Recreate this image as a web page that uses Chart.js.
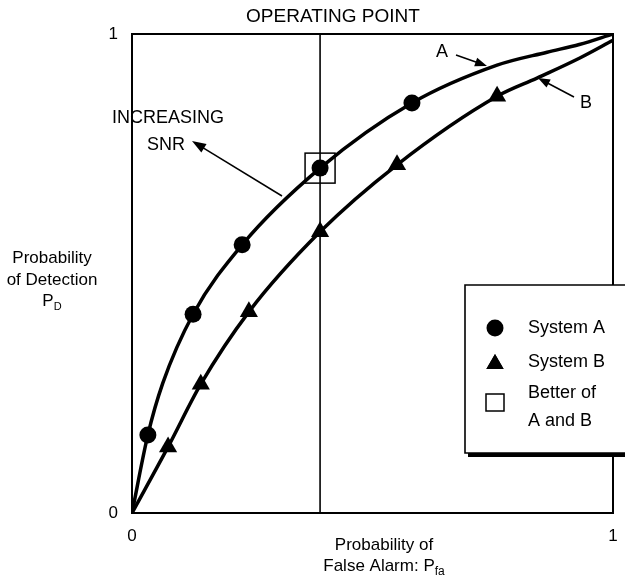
<!DOCTYPE html>
<html><head><meta charset="utf-8">
<script src="https://cdn.jsdelivr.net/npm/chart.js@4/dist/chart.umd.min.js"></script>
<style>html,body{margin:0;padding:0;background:#fff;overflow:hidden}canvas{display:block}</style>
</head><body>
<canvas id="c" width="625" height="576"></canvas>
<script>
// ---- data ----
const xTickLabels = ['0', '1'];
const yTickLabels = ['0', '1'];
const curveA = [
  {x:0, y:0}, {x:0.033, y:0.163}, {x:0.064, y:0.271}, {x:0.127, y:0.415},
  {x:0.229, y:0.560}, {x:0.391, y:0.720}, {x:0.582, y:0.856}, {x:0.759, y:0.935},
  {x:0.863, y:0.962}, {x:0.930, y:0.978}, {x:1, y:1}
];
const curveB = [
  {x:0, y:0}, {x:0.075, y:0.138}, {x:0.143, y:0.269}, {x:0.243, y:0.420},
  {x:0.391, y:0.587}, {x:0.551, y:0.727}, {x:0.759, y:0.870}, {x:0.842, y:0.908},
  {x:0.931, y:0.950}, {x:1, y:0.987}
];
const systemA = [
  {x:0.033, y:0.163}, {x:0.127, y:0.415}, {x:0.229, y:0.560}, {x:0.391, y:0.720}, {x:0.582, y:0.856}
];
const systemB = [
  {x:0.075, y:0.138}, {x:0.143, y:0.269}, {x:0.243, y:0.420}, {x:0.391, y:0.587},
  {x:0.551, y:0.727}, {x:0.759, y:0.870}
];
const operatingPoint = [{x:0.391, y:0.720}];
const seriesLabels = ['System A', 'System B', ['Better of', 'A and B']];
const chartTitle = 'OPERATING POINT';
const yTitle = ['Probability', 'of Detection'];
const xTitle = ['Probability of', 'False Alarm: '];

const FONT = '"Liberation Sans", Arial, Helvetica, sans-serif';

function font(size){ return size + 'px ' + FONT; }

function drawArrow(ctx, x1, y1, x2, y2, len, half){
  const a = Math.atan2(y2 - y1, x2 - x1);
  ctx.beginPath();
  ctx.moveTo(x1, y1);
  ctx.lineTo(x2 - Math.cos(a) * len * 0.8, y2 - Math.sin(a) * len * 0.8);
  ctx.stroke();
  ctx.beginPath();
  ctx.moveTo(x2, y2);
  ctx.lineTo(x2 - Math.cos(a) * len + Math.sin(a) * half, y2 - Math.sin(a) * len - Math.cos(a) * half);
  ctx.lineTo(x2 - Math.cos(a) * len - Math.sin(a) * half, y2 - Math.sin(a) * len + Math.cos(a) * half);
  ctx.closePath();
  ctx.fill();
}

function drawSubText(ctx, base, sub, cx, cy, size, subSize, align){
  ctx.font = font(size);
  const wb = ctx.measureText(base).width;
  ctx.font = font(subSize);
  const ws = ctx.measureText(sub).width;
  const total = wb + ws;
  let x0 = align === 'left' ? cx : cx - total / 2;
  ctx.textAlign = 'left';
  ctx.textBaseline = 'middle';
  ctx.font = font(size);
  ctx.fillText(base, x0, cy);
  ctx.font = font(subSize);
  ctx.fillText(sub, x0 + wb, cy + size * 0.35);
}

const decor = {
  id: 'decor',
  beforeDatasetsDraw(chart){
    const {ctx, chartArea: a, scales: {x, y}} = chart;
    ctx.save();
    ctx.strokeStyle = '#000';
    ctx.lineWidth = 2;
    ctx.strokeRect(a.left, a.top, a.right - a.left, a.bottom - a.top);
    // operating point vertical line
    const ox = x.getPixelForValue(operatingPoint[0].x);
    ctx.lineWidth = 1.6;
    ctx.beginPath();
    ctx.moveTo(ox, a.top);
    ctx.lineTo(ox, a.bottom);
    ctx.stroke();
    ctx.restore();
  },
  afterDatasetsDraw(chart){
    const {ctx, chartArea: a, scales: {x, y}} = chart;
    const P = (vx, vy) => [x.getPixelForValue(vx), y.getPixelForValue(vy)];
    ctx.save();
    ctx.fillStyle = '#000';
    ctx.strokeStyle = '#000';

    // box around operating point
    const [bx, by] = P(operatingPoint[0].x, operatingPoint[0].y);
    ctx.lineWidth = 1.5;
    ctx.strokeRect(bx - 15, by - 15, 30, 30);

    // arrows
    ctx.lineWidth = 1.5;
    drawArrow(ctx, 282, 196, 192, 141, 14, 5);
    drawArrow(ctx, 456, 55, 487, 66, 12, 4.5);
    drawArrow(ctx, 574, 97, 538, 78, 12, 4.5);

    // texts
    ctx.textBaseline = 'middle';
    ctx.textAlign = 'center';
    ctx.font = font(19);
    ctx.fillText(chartTitle, 333, 17);
    ctx.font = font(18);
    ctx.fillText('INCREASING', 168, 118);
    ctx.fillText('SNR', 166, 145);
    ctx.fillText('A', 442, 52);
    ctx.fillText('B', 586, 103);

    ctx.font = font(17);
    ctx.fillText(yTitle[0], 52, 258);
    ctx.fillText(yTitle[1], 52, 280);
    drawSubText(ctx, 'P', 'D', 52, 301, 17, 11);
    ctx.textAlign = 'center';
    ctx.font = font(17);
    ctx.fillText(xTitle[0], 384, 545);
    drawSubText(ctx, xTitle[1] + 'P', 'fa', 384, 566, 17, 12);

    // legend box with shadow
    const lx = 465, ly = 285, lb = 453;
    ctx.fillStyle = '#000';
    ctx.fillRect(lx + 3, lb, 625 - lx, 4);
    ctx.fillStyle = '#fff';
    ctx.fillRect(lx, ly, 625 - lx + 5, lb - ly);
    ctx.strokeStyle = '#000';
    ctx.lineWidth = 1.6;
    ctx.beginPath();
    ctx.moveTo(640, ly); ctx.lineTo(lx, ly); ctx.lineTo(lx, lb); ctx.lineTo(640, lb);
    ctx.stroke();

    ctx.fillStyle = '#000';
    const mx = 495, tx = 528;
    // circle
    ctx.beginPath(); ctx.arc(mx, 328, 8.5, 0, Math.PI * 2); ctx.fill();
    // triangle
    Chart.helpers.drawPoint(ctx, {pointStyle: 'triangle', radius: 10, borderWidth: 0}, mx, 364);
    ctx.fill();
    // square
    ctx.lineWidth = 1.5;
    ctx.strokeRect(mx - 9, 394, 18, 17);

    ctx.textAlign = 'left';
    ctx.textBaseline = 'middle';
    ctx.font = font(18);
    ctx.fillText(seriesLabels[0], tx, 328);
    ctx.fillText(seriesLabels[1], tx, 362);
    ctx.fillText(seriesLabels[2][0], tx, 393);
    ctx.fillText(seriesLabels[2][1], tx, 421);
    ctx.restore();
  }
};

const tickFont = {family: FONT, size: 17};

new Chart(document.getElementById('c'), {
  type: 'scatter',
  data: {
    datasets: [
      {label: 'A curve', data: curveA, showLine: true, borderColor: '#000', borderWidth: 3.5,
       pointRadius: 0, cubicInterpolationMode: 'monotone', borderCapStyle: 'round', borderJoinStyle: 'round'},
      {label: 'B curve', data: curveB, showLine: true, borderColor: '#000', borderWidth: 3.5,
       pointRadius: 0, cubicInterpolationMode: 'monotone', borderCapStyle: 'round', borderJoinStyle: 'round'},
      {label: seriesLabels[0], data: systemA, showLine: false, pointStyle: 'circle', pointRadius: 8.5,
       backgroundColor: '#000', borderColor: '#000', borderWidth: 0},
      {label: seriesLabels[1], data: systemB, showLine: false, pointStyle: 'triangle', pointRadius: 10.5,
       backgroundColor: '#000', borderColor: '#000', borderWidth: 0}
    ]
  },
  options: {
    responsive: false,
    animation: false,
    layout: {padding: {left: 0, top: 34, right: 12, bottom: 0}},
    plugins: {legend: {display: false}, tooltip: {enabled: false}},
    scales: {
      x: {
        type: 'linear', min: 0, max: 1,
        grid: {display: false, drawTicks: false}, border: {display: false},
        ticks: {stepSize: 1, padding: 13, color: '#000', font: tickFont,
                callback: (v, i) => xTickLabels[i] ?? ''},
        afterFit: s => { s.height = 63; s.paddingLeft = 0; s.paddingRight = 0; }
      },
      y: {
        type: 'linear', min: 0, max: 1,
        grid: {display: false, drawTicks: false}, border: {display: false},
        ticks: {stepSize: 1, padding: 14, color: '#000', font: tickFont,
                callback: (v, i) => yTickLabels[i] ?? ''},
        afterFit: s => { s.width = 132; s.paddingTop = 0; s.paddingBottom = 0; }
      }
    }
  },
  plugins: [decor]
});
</script>
</body></html>
